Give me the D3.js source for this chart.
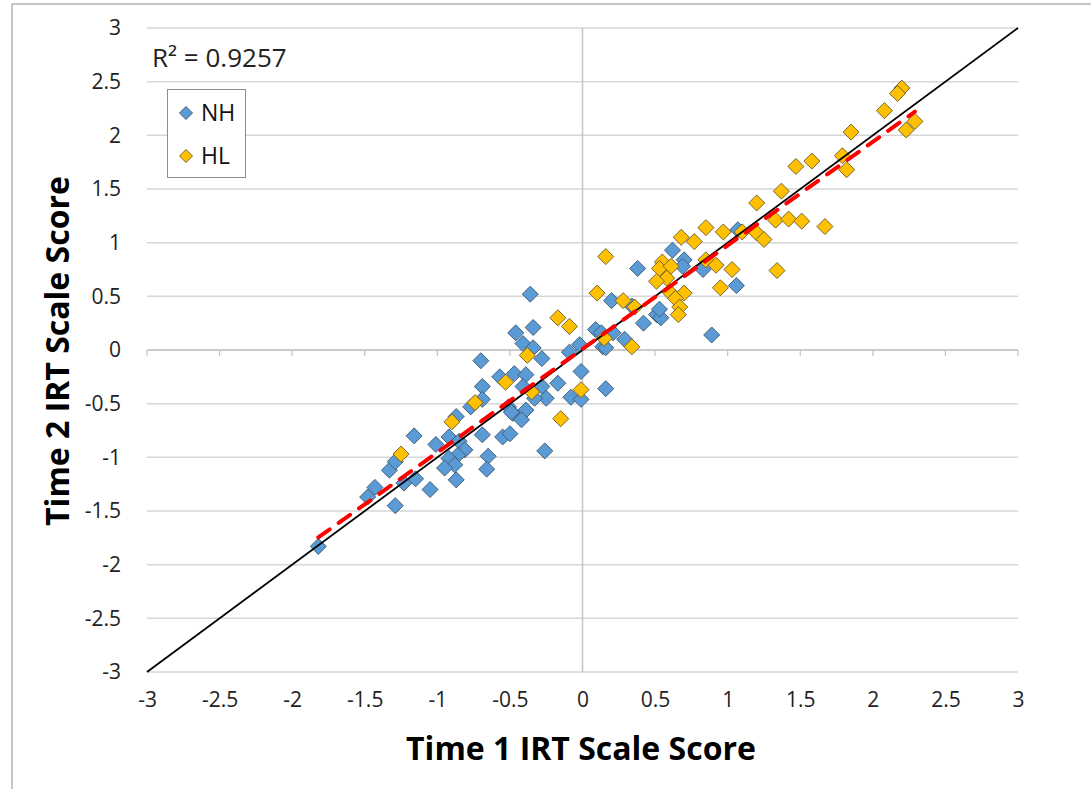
<!DOCTYPE html>
<html><head><meta charset="utf-8">
<script src="https://cdn.jsdelivr.net/npm/d3@7"></script>
<style>
html,body{margin:0;padding:0;background:#fff;}
svg{display:block;font-family:"Open Sans",sans-serif;}
</style></head>
<body><svg id="chart" width="1091" height="789"></svg>
<script>
// ---- data ----
const tickValues = [-3,-2.5,-2,-1.5,-1,-0.5,0,0.5,1,1.5,2,2.5,3];
const tickLabels = ["-3","-2.5","-2","-1.5","-1","-0.5","0","0.5","1","1.5","2","2.5","3"];
const seriesNames = ["NH","HL"];
const nhX = [-1.82,-1.48,-1.43,-1.29,-1.33,-1.29,-1.23,-1.15,-1.16,-1.05,-1.01,-0.92,-0.85,-0.81,-0.86,-0.92,-0.88,-0.95,-0.87,
  -0.69,-0.55,-0.50,-0.65,-0.66,-0.87,-0.77,-0.51,-0.48,-0.70,-0.69,-0.69,-0.57,-0.47,-0.39,-0.41,-0.28,-0.17,-0.25,-0.33,
  -0.49,-0.39,-0.42,-0.26,-0.41,-0.34,-0.28,-0.09,-0.02,0.14,-0.01,0.16,-0.08,-0.01,-0.36,-0.34,-0.46,0.09,0.13,0.21,0.20,
  0.29,0.16,0.38,0.34,0.42,0.51,0.54,0.53,0.62,0.70,0.69,0.83,0.89,1.07,1.06];
const nhY = [-1.83,-1.37,-1.28,-1.45,-1.12,-1.04,-1.24,-1.20,-0.80,-1.30,-0.88,-0.81,-0.85,-0.93,-0.98,-1.01,-1.07,-1.10,-1.21,
  -0.79,-0.81,-0.78,-0.99,-1.11,-0.62,-0.53,-0.53,-0.59,-0.10,-0.34,-0.46,-0.25,-0.22,-0.23,-0.34,-0.34,-0.31,-0.45,-0.45,
  -0.58,-0.56,-0.65,-0.94,0.06,0.02,-0.08,-0.02,0.05,0.03,-0.20,-0.36,-0.44,-0.46,0.52,0.21,0.16,0.19,0.16,0.16,0.46,
  0.10,0.02,0.76,0.41,0.25,0.33,0.30,0.38,0.93,0.84,0.78,0.75,0.14,1.12,0.60];
const hlX = [-1.25,-0.90,-0.74,-0.38,-0.35,-0.53,-0.15,-0.01,-0.17,-0.09,0.16,0.10,0.28,0.36,0.34,0.15,
  1.20,1.33,0.85,0.68,0.77,0.97,1.10,1.20,1.25,0.55,0.53,0.61,0.58,0.51,0.85,0.92,1.03,1.34,0.95,0.60,0.70,0.64,0.67,0.66,
  2.20,2.17,2.08,2.29,2.23,1.85,1.47,1.58,1.79,1.82,1.37,1.42,1.51,1.67];
const hlY = [-0.97,-0.67,-0.49,-0.05,-0.39,-0.30,-0.64,-0.37,0.30,0.22,0.87,0.53,0.46,0.40,0.03,0.11,
  1.37,1.21,1.14,1.05,1.01,1.10,1.10,1.09,1.03,0.82,0.76,0.78,0.67,0.64,0.84,0.79,0.75,0.74,0.58,0.54,0.53,0.48,0.40,0.33,
  2.44,2.39,2.23,2.13,2.05,2.03,1.71,1.76,1.81,1.68,1.48,1.22,1.20,1.15];
const trendSlope = 0.965, trendIntercept = 0.01;
const r2Text = "R² = 0.9257";

// ---- layout ----
const svg = d3.select("#chart");
const x = d3.scaleLinear().domain([-3,3]).range([147,1018]);
const y = d3.scaleLinear().domain([-3,3]).range([672,28]);

// outer chart border (top & left visible)
svg.append("path").attr("d","M12,789 L12,4 L1091,4").attr("fill","none").attr("stroke","#8c8c8c").attr("stroke-width",1);

// horizontal gridlines
svg.append("g").selectAll("line").data(tickValues).join("line")
  .attr("x1",x(-3)).attr("x2",x(3)).attr("y1",d=>y(d)).attr("y2",d=>y(d))
  .attr("stroke","#d6d6d6").attr("stroke-width",1.5);

// vertical axis line at x = 0
svg.append("line").attr("x1",x(0)).attr("x2",x(0)).attr("y1",y(3)).attr("y2",y(-3))
  .attr("stroke","#c4c4c4").attr("stroke-width",1.5);
// horizontal axis line at y = 0 with tick marks
svg.append("line").attr("x1",x(-3)).attr("x2",x(3)).attr("y1",y(0)).attr("y2",y(0))
  .attr("stroke","#c4c4c4").attr("stroke-width",1.5);
svg.append("g").selectAll("line").data(tickValues).join("line")
  .attr("x1",d=>x(d)).attr("x2",d=>x(d)).attr("y1",y(0)).attr("y2",y(0)+6)
  .attr("stroke","#c4c4c4").attr("stroke-width",1.2);

// tick labels via axes
const xAxis = d3.axisBottom(x).tickValues(tickValues).tickFormat((d,i)=>tickLabels[i]).tickSize(0).tickPadding(0);
const gx = svg.append("g").attr("transform",`translate(0,${y(-3)+35})`).call(xAxis);
gx.select(".domain").remove();
gx.selectAll("text").attr("font-size",21).attr("fill","#222").attr("font-family","'Open Sans',sans-serif").attr("dy","0");

const yAxis = d3.axisLeft(y).tickValues(tickValues).tickFormat((d,i)=>tickLabels[i]).tickSize(0).tickPadding(0);
const gy = svg.append("g").attr("transform",`translate(121,0)`).call(yAxis);
gy.select(".domain").remove();
gy.selectAll("text").attr("font-size",21).attr("fill","#222").attr("font-family","'Open Sans',sans-serif");

// axis titles
svg.append("text").attr("x",581).attr("y",760).attr("text-anchor","middle")
  .attr("font-size",32).attr("font-weight","bold").attr("fill","#000").text("Time 1 IRT Scale Score");
svg.append("text").attr("transform","translate(69,351) rotate(-90)").attr("text-anchor","middle")
  .attr("font-size",32).attr("font-weight","bold").attr("fill","#000").text("Time 2 IRT Scale Score");

// markers
const diamond = d3.symbol().type(d3.symbolSquare).size(128);
const series = [
  {name:seriesNames[0], xs:nhX, ys:nhY, fill:"#5B9BD5", stroke:"#3f5a75"},
  {name:seriesNames[1], xs:hlX, ys:hlY, fill:"#FFC000", stroke:"#6f5f30"}
];
series.forEach(s=>{
  svg.append("g").selectAll("path").data(s.xs.map((v,i)=>[v,s.ys[i]])).join("path")
    .attr("d",diamond)
    .attr("transform",d=>`translate(${x(d[0])},${y(d[1])}) rotate(45)`)
    .attr("fill",s.fill).attr("stroke",s.stroke).attr("stroke-width",0.9);
});

// identity line
svg.append("line").attr("x1",x(-3)).attr("y1",y(-3)).attr("x2",x(3)).attr("y2",y(3))
  .attr("stroke","#000").attr("stroke-width",1.8);

// linear trendline (dashed red) over all data
const allX = nhX.concat(hlX);
const [xmin,xmax] = d3.extent(allX);
svg.append("line").attr("x1",x(xmin)).attr("y1",y(trendSlope*xmin+trendIntercept))
  .attr("x2",x(xmax)).attr("y2",y(trendSlope*xmax+trendIntercept))
  .attr("stroke","#ff0000").attr("stroke-width",4).attr("stroke-dasharray","14,11").attr("stroke-linecap","round");

// R² label
svg.append("text").attr("x",152).attr("y",67).attr("font-size",26).attr("fill","#222").text(r2Text);

// legend
const lg = svg.append("g");
lg.append("rect").attr("x",167.5).attr("y",89.5).attr("width",78).attr("height",88)
  .attr("fill","#fff").attr("stroke","#8c8c8c").attr("stroke-width",1);
series.forEach((s,i)=>{
  const cy = 113 + i*43;
  lg.append("path").attr("d",d3.symbol().type(d3.symbolSquare).size(85))
    .attr("transform",`translate(186,${cy}) rotate(45)`)
    .attr("fill",s.fill).attr("stroke",s.stroke).attr("stroke-width",0.9);
  lg.append("text").attr("x",201).attr("y",cy).attr("dy","0.35em").attr("font-size",23).attr("fill","#111").text(s.name);
});
</script>
</body></html>
